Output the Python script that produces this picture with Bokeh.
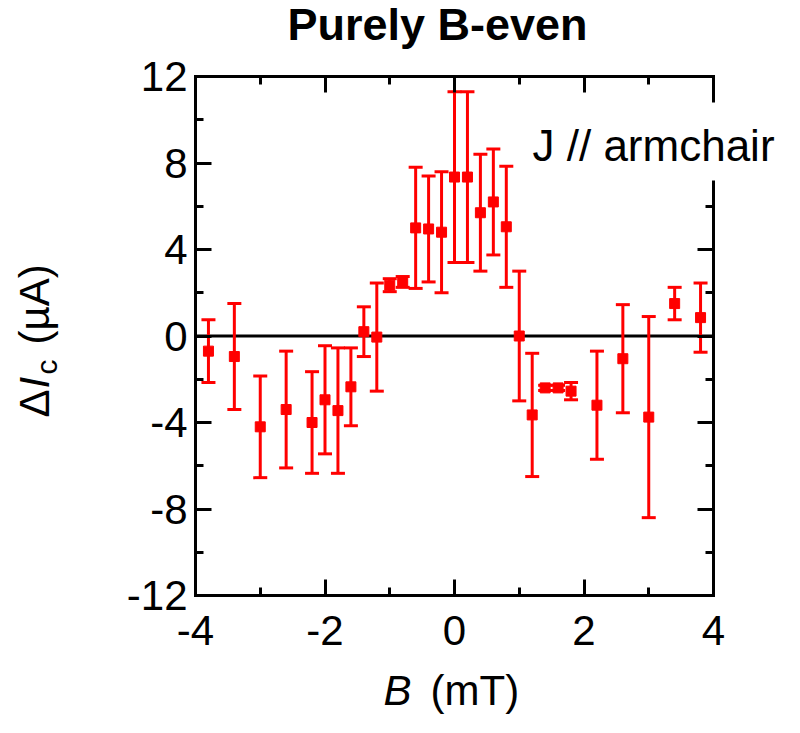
import numpy as np
from bokeh.plotting import figure
from bokeh.models import (Range1d, LinearAxis, FixedTicker, Label,
                          ColumnDataSource)
from bokeh.embed import file_html
from bokeh.resources import INLINE

# ---- data ----
B_mT = [-3.8, -3.4, -3.0, -2.6, -2.2, -2.0, -1.8, -1.6, -1.4, -1.2,
        -1.0, -0.8, -0.6, -0.4, -0.2, 0.0, 0.2, 0.4, 0.6, 0.8,
        1.0, 1.2, 1.4, 1.6, 1.8, 2.2, 2.6, 3.0, 3.4, 3.8]
dIc_uA = [-0.7, -0.95, -4.2, -3.4, -4.0, -2.95, -3.45, -2.35, 0.2, -0.05,
          2.35, 2.5, 5.0, 4.95, 4.8, 7.35, 7.35, 5.7, 6.2, 5.05,
          0.0, -3.65, -2.4, -2.4, -2.55, -3.2, -1.05, -3.75, 1.5, 0.85]
err_uA = [1.45, 2.45, 2.35, 2.7, 2.35, 2.5, 2.9, 1.8, 1.15, 2.5,
          0.3, 0.25, 2.8, 2.45, 2.8, 3.95, 3.95, 2.7, 2.45, 2.8,
          3.0, 2.85, 0.12, 0.12, 0.4, 2.5, 2.5, 4.65, 0.75, 1.6]

x_ticks = [-4, -2, 0, 2, 4]
x_minor = [-3, -1, 1, 3]
y_ticks = [-12, -8, -4, 0, 4, 8, 12]
y_minor = [-10, -6, -2, 2, 6, 10]
x_lim = (-4, 4)
y_lim = (-12, 12)

FONT = "Liberation Sans"
RED = "#ff0000"

# ---- layout: canvas size and where the axes box sits on it (pixels) ----
W, H = 784, 717
BOX_L, BOX_R, BOX_T, BOX_B = 195, 713, 76, 595
xs = (BOX_R - BOX_L) / (x_lim[1] - x_lim[0])   # px per unit
ys = (BOX_B - BOX_T) / (y_lim[1] - y_lim[0])
x_view = (x_lim[0] - BOX_L / xs, x_lim[1] + (W - BOX_R) / xs)
y_view = (y_lim[0] - (H - BOX_B) / ys, y_lim[1] + BOX_T / ys)

src = ColumnDataSource(dict(
    x=B_mT, y=dIc_uA,
    lo=[v - e for v, e in zip(dIc_uA, err_uA)],
    hi=[v + e for v, e in zip(dIc_uA, err_uA)],
))

p = figure(width=W, height=H,
           x_range=Range1d(*x_view), y_range=Range1d(*y_view),
           output_backend="svg", toolbar_location=None,
           x_axis_location=None, y_axis_location=None,
           min_border_left=0, min_border_right=0,
           min_border_top=0, min_border_bottom=0)
p.xgrid.visible = False
p.ygrid.visible = False
p.outline_line_color = None
p.background_fill_color = "white"
p.border_fill_color = "white"


def make_axis(ticks, minor, bounds, loc, show_labels, standoff):
    ax = LinearAxis(fixed_location=loc, bounds=bounds,
                    ticker=FixedTicker(ticks=ticks, minor_ticks=minor))
    ax.axis_line_width = 3
    ax.axis_line_color = "black"
    ax.axis_line_cap = "square"
    ax.major_tick_in = 16
    ax.major_tick_out = 0
    ax.minor_tick_in = 8
    ax.minor_tick_out = 0
    ax.major_tick_line_width = 3
    ax.minor_tick_line_width = 3
    ax.major_tick_line_color = "black"
    ax.minor_tick_line_color = "black"
    ax.major_label_text_font = FONT
    ax.major_label_standoff = standoff
    ax.axis_label_standoff = 0
    if show_labels:
        ax.major_label_text_font_size = "42px"
        ax.major_label_text_color = "black"
        ax.major_label_overrides = {t: str(t) for t in ticks}
    else:
        ax.major_label_text_font_size = "0px"
        ax.major_label_text_color = None
    return ax


p.add_layout(make_axis(x_ticks, x_minor, x_lim, y_lim[0], True, 20), "below")
p.add_layout(make_axis(y_ticks, y_minor, y_lim, x_lim[0], True, 8), "left")
p.add_layout(make_axis(x_ticks, x_minor, x_lim, y_lim[1], False, 0), "above")
p.add_layout(make_axis(y_ticks, y_minor, y_lim, x_lim[1], False, 0), "right")

# zero line across the axes box
p.segment(x0=[x_lim[0]], y0=[0], x1=[x_lim[1]], y1=[0],
          line_color="black", line_width=3)

# error bars, caps and markers
p.segment(x0="x", y0="lo", x1="x", y1="hi", source=src,
          line_color=RED, line_width=3)
p.scatter(x="x", y="hi", source=src, marker="dash", size=14,
          line_color=RED, line_width=3)
p.scatter(x="x", y="lo", source=src, marker="dash", size=14,
          line_color=RED, line_width=3)
p.scatter(x="x", y="y", source=src, marker="square", size=10,
          line_color=RED, fill_color=RED, line_width=1)

# title
p.add_layout(Label(x=0, y=y_lim[1], x_offset=-17, y_offset=52,
                   text="Purely B-even", text_font=FONT,
                   text_font_size="45px", text_font_style="bold",
                   text_align="center", text_baseline="alphabetic",
                   text_color="black"))

# in-plot annotation with white box
p.add_layout(Label(x=0, y=y_lim[1], x_offset=65, y_offset=-65,
                   text="J // armchair", text_font=FONT,
                   text_font_size="44px", text_align="left",
                   text_baseline="alphabetic", text_color="black",
                   background_fill_color="white",
                   padding=dict(left=13, right=60, top=18, bottom=11)))

# x-axis label: italic B + (mT)
p.add_layout(Label(x=x_lim[0], y=y_lim[0], x_offset=188, y_offset=-95,
                   text="B", text_font=FONT, text_font_size="42px",
                   text_font_style="italic", text_align="left",
                   text_baseline="alphabetic", text_color="black"))
p.add_layout(Label(x=x_lim[0], y=y_lim[0], x_offset=235, y_offset=-95,
                   text="(mT)", text_font=FONT, text_font_size="42px",
                   text_align="left", text_baseline="alphabetic",
                   text_color="black"))

# y-axis label: ΔI_c (µA), rotated
ylab = [("Δ", "normal", "42px", -161, -81.5),
        ("I", "italic", "42px", -161, -52.5),
        ("c", "normal", "30px", -149, -38.5),
        ("(µA)", "normal", "42px", -161, -8.5)]
for txt, style, size, xo, yo in ylab:
    p.add_layout(Label(x=x_lim[0], y=0, x_offset=xo, y_offset=yo,
                       angle=np.pi / 2, text=txt, text_font=FONT,
                       text_font_size=size, text_font_style=style,
                       text_align="left", text_baseline="alphabetic",
                       text_color="black"))

open("out.html", "w").write(file_html(p, INLINE))
